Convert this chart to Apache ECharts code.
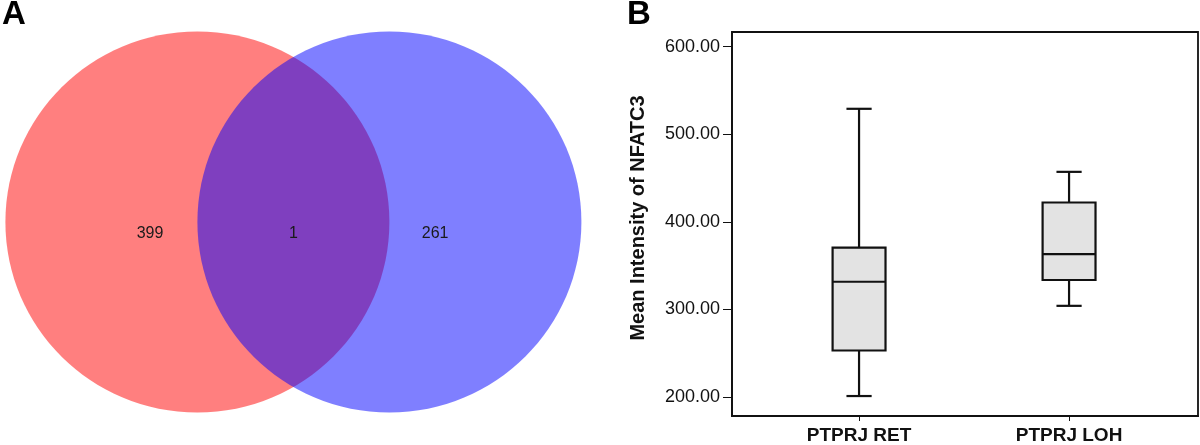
<!DOCTYPE html>
<html>
<head>
<meta charset="utf-8">
<script src="https://cdn.jsdelivr.net/npm/echarts@6/dist/echarts.min.js"></script>
<style>
html,body{margin:0;padding:0;background:#fff;}
#chart{width:1200px;height:445px;}
</style>
</head>
<body>
<div id="chart"></div>
<script>
// ---- Panel A: Venn counts ----
const vennRegions = ['left only', 'both', 'right only'];
const vennCounts = [399, 1, 261];

// ---- Panel B: box plot ----
const boxCategories = ['PTPRJ RET', 'PTPRJ LOH'];
const boxMin = [201, 304];
const boxQ1 = [253, 333.5];
const boxMedian = [331.5, 363];
const boxQ3 = [370.5, 422];
const boxMax = [529, 457];
const yTicks = [200, 300, 400, 500, 600];
const yAxisTitle = 'Mean Intensity of NFATC3';
const panelLabels = ['A', 'B'];

const chart = echarts.init(document.getElementById('chart'), null, {renderer: 'canvas'});

// Venn layout (two equal circles, radius = distance between centres)
const vennCircles = [[0, 0], [1, 0]];
const vennLabelPos = [[-0.247, -0.06], [0.5, -0.06], [1.238, -0.06]];
const vennFills = ['rgba(255,0,0,0.5)', 'rgba(0,0,255,0.5)'];

const boxData = boxCategories.map((c, i) => [i, boxMin[i], boxQ1[i], boxMedian[i], boxQ3[i], boxMax[i]]);

const ink = '#111';

const option = {
  backgroundColor: '#ffffff',
  animation: false,
  graphic: [
    {type: 'text', left: 2, top: -2, style: {text: panelLabels[0], font: 'bold 33px "Liberation Sans", Arial, sans-serif', fill: '#000'}},
    {type: 'text', left: 627, top: -2, style: {text: panelLabels[1], font: 'bold 33px "Liberation Sans", Arial, sans-serif', fill: '#000'}}
  ],
  grid: [
    {left: 5.4, top: 31.5, width: 576, height: 381, show: false},
    {left: 732, top: 32, width: 466, height: 385.5, show: true, borderColor: ink, borderWidth: 1.8, backgroundColor: 'transparent'}
  ],
  xAxis: [
    {gridIndex: 0, type: 'value', min: -1, max: 2, show: false},
    {
      gridIndex: 1, type: 'value', min: -0.605, max: 1.614,
      splitLine: {show: false},
      axisLine: {show: true, onZero: false, lineStyle: {color: ink, width: 1.8}},
      axisTick: {show: true, customValues: [0, 1], length: 5, lineStyle: {color: ink, width: 1}},
      axisLabel: {
        customValues: [0, 1],
        formatter: v => boxCategories[Math.round(v)] || '',
        fontFamily: '"Liberation Sans", Arial, sans-serif',
        fontWeight: 'bold', fontSize: 19, color: ink, margin: 10
      }
    }
  ],
  yAxis: [
    {gridIndex: 0, type: 'value', min: -1, max: 1, show: false},
    {
      gridIndex: 1, type: 'value', min: 178.2, max: 616.7,
      splitLine: {show: false},
      axisLine: {show: true, onZero: false, lineStyle: {color: ink, width: 1.8}},
      axisTick: {show: true, customValues: yTicks, length: 9, lineStyle: {color: ink, width: 1}},
      axisLabel: {
        customValues: yTicks,
        formatter: v => v.toFixed(2),
        fontFamily: '"Liberation Sans", Arial, sans-serif',
        fontSize: 18, color: ink, margin: 12
      },
      name: yAxisTitle,
      nameLocation: 'middle',
      nameGap: 84,
      nameTextStyle: {fontFamily: '"Liberation Sans", Arial, sans-serif', fontWeight: 'bold', fontSize: 20, color: ink, padding: [0, 0, 0, 12]}
    }
  ],
  series: [
    {
      type: 'custom', xAxisIndex: 0, yAxisIndex: 0, silent: true,
      data: vennCircles.map((c, i) => [c[0], c[1], i]),
      renderItem: (params, api) => {
        const c = api.coord([api.value(0), api.value(1)]);
        const s = api.size([1, 1]);
        return {
          type: 'ellipse',
          shape: {cx: c[0], cy: c[1], rx: s[0], ry: s[1]},
          style: {fill: vennFills[api.value(2)], stroke: 'none'}
        };
      }
    },
    {
      type: 'custom', xAxisIndex: 0, yAxisIndex: 0, silent: true, z: 5,
      data: vennCounts.map((v, i) => [vennLabelPos[i][0], vennLabelPos[i][1], v]),
      renderItem: (params, api) => {
        const c = api.coord([api.value(0), api.value(1)]);
        return {
          type: 'text',
          x: c[0], y: c[1],
          style: {
            text: String(api.value(2)),
            font: '16px "Liberation Sans", Arial, sans-serif',
            fill: '#1a1a1a', align: 'center', verticalAlign: 'middle'
          }
        };
      }
    },
    {
      type: 'custom', xAxisIndex: 1, yAxisIndex: 1, silent: true, z: 5,
      data: boxData,
      encode: {x: 0, y: [1, 2, 3, 4, 5]},
      renderItem: (params, api) => {
        const x = api.value(0);
        const lo = api.coord([x, api.value(1)]);
        const q1 = api.coord([x, api.value(2)]);
        const md = api.coord([x, api.value(3)]);
        const q3 = api.coord([x, api.value(4)]);
        const hi = api.coord([x, api.value(5)]);
        const bw = api.size([0.252, 0])[0];
        const cw = api.size([0.12, 0])[0];
        const cx = lo[0];
        const st = {stroke: ink, lineWidth: 2.2, fill: 'none'};
        return {
          type: 'group',
          children: [
            {type: 'line', shape: {x1: cx, y1: q3[1], x2: cx, y2: hi[1]}, style: st},
            {type: 'line', shape: {x1: cx, y1: lo[1], x2: cx, y2: q1[1]}, style: st},
            {type: 'line', shape: {x1: cx - cw / 2, y1: hi[1], x2: cx + cw / 2, y2: hi[1]}, style: st},
            {type: 'line', shape: {x1: cx - cw / 2, y1: lo[1], x2: cx + cw / 2, y2: lo[1]}, style: st},
            {type: 'rect', shape: {x: cx - bw / 2, y: q3[1], width: bw, height: q1[1] - q3[1]},
              style: {fill: '#e3e3e3', stroke: ink, lineWidth: 2.2}},
            {type: 'line', shape: {x1: cx - bw / 2, y1: md[1], x2: cx + bw / 2, y2: md[1]}, style: st}
          ]
        };
      }
    }
  ]
};

chart.setOption(option);
</script>
</body>
</html>
